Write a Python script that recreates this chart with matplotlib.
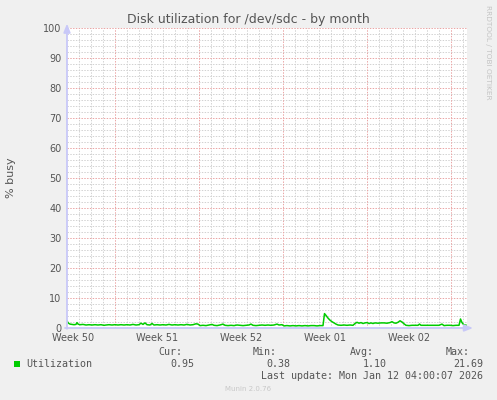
import matplotlib
matplotlib.use("Agg")
import matplotlib.pyplot as plt
from matplotlib.patches import Rectangle

# === Chart data ===
TITLE = "Disk utilization for /dev/sdc - by month"
Y_LABEL = "% busy"
y_ticks = list(range(0, 101, 10))
week_labels = ["Week 50", "Week 51", "Week 52", "Week 01", "Week 02"]
week_starts = [96, 264, 432, 600, 768]   # hours since graph start
graph_hours = 800

hours = [
    # week 50 / 51
    0, 3, 6, 10, 14, 18, 20, 22, 26, 32, 38, 44, 50, 56, 62, 68, 74, 78, 84, 90,
    96, 102, 108, 114, 120, 126, 132, 138, 144, 148, 152, 156, 160, 166, 170, 174,
    180, 186, 192, 198, 204, 210, 216, 222, 228, 234, 240, 246, 252, 258, 262,
    # week 52
    266, 272, 278, 284, 290, 294, 300, 306, 312, 316, 322, 328, 334, 340, 346,
    352, 358, 364, 368, 372, 378, 384, 390, 396, 402, 408, 414, 420, 424, 430,
    # week 01
    434, 440, 446, 452, 458, 464, 470, 476, 482, 488, 494, 500, 506, 512, 515,
    518, 522, 526, 530, 534, 538, 542, 548, 554, 560, 566, 572, 576, 580, 584,
    588, 592, 596,
    # week 02
    600, 604, 608, 612, 616, 622, 628, 634, 640, 646, 650, 654, 658, 662, 666,
    670, 674, 678, 684, 690, 696, 702, 705, 708, 714, 720, 726, 732, 738, 744,
    750, 754, 760, 766, 772, 778, 784, 787, 790, 794, 798,
]
busy = [
    # week 50 / 51
    2.3, 1.6, 1.3, 1.2, 1.1, 1.2, 1.8, 1.3, 1.1, 1.2, 1.0, 1.1, 1.0, 1.1, 1.0, 1.1, 0.9, 1.0, 1.1, 1.0,
    1.1, 1.0, 1.1, 1.0, 1.1, 1.0, 1.2, 1.0, 1.1, 1.6, 1.2, 1.7, 1.1, 1.0, 1.5, 1.0,
    1.1, 1.0, 1.1, 1.0, 1.2, 1.0, 1.1, 1.0, 1.1, 1.0, 1.2, 1.0, 1.1, 1.4, 1.3,
    # week 52
    0.8, 0.9, 0.8, 1.0, 1.2, 0.9, 0.8, 1.0, 1.3, 0.9, 0.8, 0.9, 0.8, 1.0, 0.9,
    0.8, 0.9, 1.0, 1.3, 0.9, 0.8, 0.9, 1.0, 0.9, 1.0, 0.9, 1.0, 1.3, 1.0, 1.1,
    # week 01
    0.7, 0.8, 0.7, 0.8, 0.7, 0.8, 0.7, 0.8, 0.7, 0.8, 0.8, 0.7, 0.8, 0.8, 4.8,
    4.2, 3.3, 2.6, 2.1, 1.7, 1.3, 1.0, 0.9, 1.0, 0.9, 1.0, 0.9, 1.5, 1.9, 1.6,
    1.8, 1.5, 1.7,
    # week 02
    1.8, 1.5, 1.7, 1.5, 1.7, 1.6, 1.7, 1.7, 1.6, 1.8, 2.1, 1.7, 1.6, 1.9, 2.4,
    2.0, 1.4, 0.9, 0.8, 0.9, 0.9, 0.9, 1.3, 0.9, 0.9, 0.9, 0.9, 0.9, 0.9, 0.9,
    1.3, 0.8, 0.9, 0.9, 0.8, 0.9, 0.9, 3.0, 1.8, 1.0, 0.95,
]

legend_name = "Utilization"
stat_names = ["Cur:", "Min:", "Avg:", "Max:"]
stat_values = ["0.95", "0.38", "1.10", "21.69"]
last_update = "Last update: Mon Jan 12 04:00:07 2026"
watermark = "RRDTOOL / TOBI OETIKER"
footer = "Munin 2.0.76"

# === Styling ===
W, H = 497, 400
BG = "#f0f0f0"
TEXT = "#555555"
GREEN = "#00cc00"
AXIS = "#c8c8f8"
MINOR = "#d2d2d2"
MAJOR = "#eaa6a6"


def fx(x):
    return x / W


def fy(y):
    return 1 - y / H


fig = plt.figure(figsize=(W / 100, H / 100), dpi=100, facecolor=BG)
ax = fig.add_axes([fx(67), fy(328), 400 / W, 300 / H], facecolor="white")
ax.set_xlim(0, graph_hours)
ax.set_ylim(0, 100)

# === Grid ===
dots = (0, (1.4, 1.4))
for h in range(24, graph_hours + 1, 24):
    if h not in week_starts:
        ax.axvline(h, color=MINOR, lw=0.72, ls=dots, zorder=1)
for v in range(2, 101, 2):
    if v % 10:
        ax.axhline(v, color=MINOR, lw=0.72, ls=dots, zorder=1)
for h in week_starts:
    ax.axvline(h, color=MAJOR, lw=0.72, ls=dots, zorder=2)
for v in y_ticks[1:]:
    ax.axhline(v, color=MAJOR, lw=0.72, ls=dots, zorder=2)

ax.plot(hours, busy, color=GREEN, lw=1.1, zorder=4)

# === Axes / ticks ===
for s in ax.spines.values():
    s.set_visible(False)
ax.annotate("", xy=(1.022, 0), xytext=(-0.012, 0), xycoords="axes fraction",
            arrowprops=dict(arrowstyle="-|>,head_length=0.5,head_width=0.2",
                            color=AXIS, lw=1.3), zorder=5)
ax.annotate("", xy=(0, 1.024), xytext=(0, -0.012), xycoords="axes fraction",
            arrowprops=dict(arrowstyle="-|>,head_length=0.5,head_width=0.2",
                            color=AXIS, lw=1.3), zorder=5)

ax.set_yticks(y_ticks)
ax.set_yticklabels([str(t) for t in y_ticks])
ax.set_xticks([s - 84 for s in week_starts])
ax.set_xticklabels(week_labels)
ax.tick_params(length=0, labelsize=7, labelcolor=TEXT)
ax.tick_params(axis="x", pad=3.5)
ax.tick_params(axis="y", pad=4)

# === Texts ===
fig.text(fx(248), fy(19), TITLE, ha="center", va="center", fontsize=9, color=TEXT)
fig.text(fx(11), fy(178), Y_LABEL, ha="center", va="center", rotation=90,
         fontsize=8, color=TEXT)
fig.text(fx(488), fy(5), watermark, ha="center", va="top", rotation=270,
         fontsize=5.3, color="#c4c4c4")
fig.text(fx(248), fy(389), footer, ha="center", va="center", fontsize=5,
         color="#c8c8c8")

mono = dict(family="DejaVu Sans Mono", fontsize=7.2, color=TEXT, va="center")
fig.patches.append(Rectangle((fx(14), fy(367)), 6 / W, 6 / H, transform=fig.transFigure,
                             facecolor=GREEN, edgecolor="none"))
fig.text(fx(26), fy(364), legend_name, ha="left", **mono)
for name, value, xn, xv in zip(stat_names, stat_values, [182, 277, 374, 470],
                               [194, 290, 387, 483]):
    fig.text(fx(xn), fy(352), name, ha="right", **mono)
    fig.text(fx(xv), fy(364), value, ha="right", **mono)
fig.text(fx(483), fy(376), last_update, ha="right", **mono)

fig.savefig("out.png", dpi=100, facecolor=BG)
